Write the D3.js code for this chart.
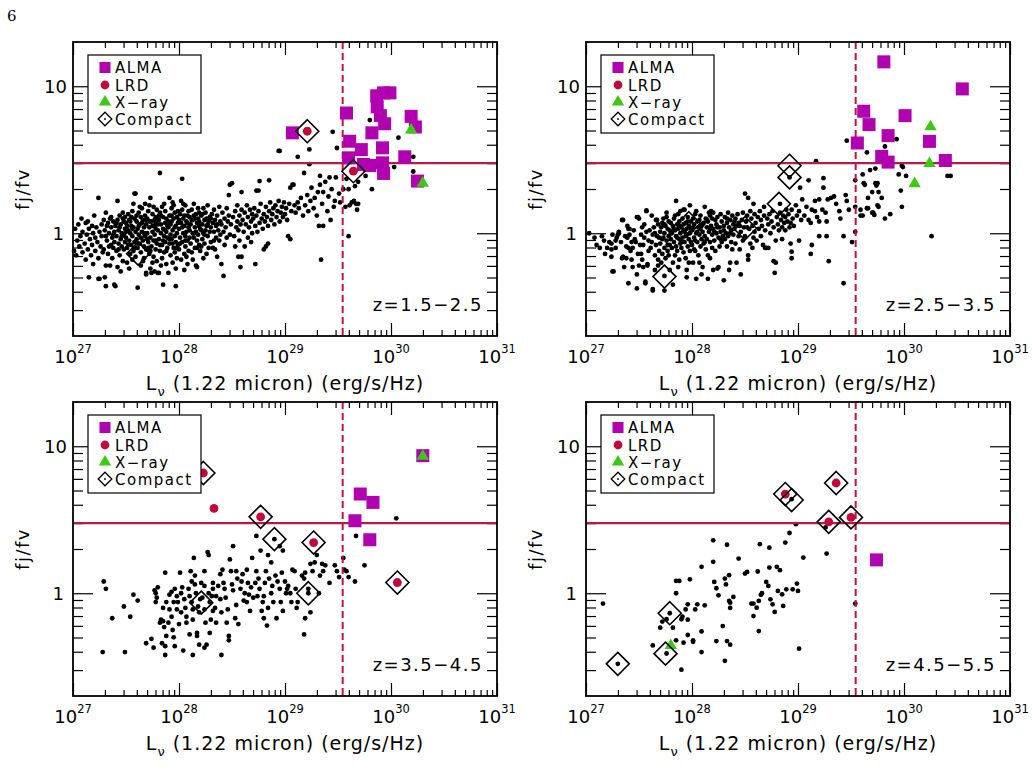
<!DOCTYPE html>
<html>
<head>
<meta charset="utf-8">
<script src="https://cdn.jsdelivr.net/npm/d3@7"></script>
<style>
  body { margin: 0; background: #fff; }
  text { font-family: "DejaVu Sans", sans-serif; fill: #000; }
</style>
</head>
<body>
<svg id="chart" width="1032" height="780"></svg>
<script>
// every point is [log10 L_nu (erg/s/Hz), log10 fj/fv]

// z = 1.5 - 2.5
var dots1 = [
  [27.01,-0.12],[27.02,0.03],[27.03,-0.15],[27.04,-0.05],[27.05,0.06],[27.06,-0.09],[27.07,-0.02],[27.08,0.10],[27.09,-0.13],[27.09,0.01],
  [27.11,-0.07],[27.12,0.07],[27.12,-0.18],[27.13,-0.01],[27.14,0.08],[27.14,-0.11],[27.15,-0.30],[27.15,0.03],[27.16,-0.04],[27.17,-0.15],[27.18,0.05],[27.18,-0.08],[27.19,0.00],[27.19,-0.21],
  [27.20,0.12],[27.21,-0.03],[27.21,-0.12],[27.22,0.04],[27.23,-0.06],[27.24,-0.31],[27.24,-0.17],[27.24,0.24],[27.25,0.01],[27.25,-0.31],[27.26,-0.09],[27.27,0.06],[27.27,-0.02],[27.28,-0.13],[27.29,0.09],[27.29,-0.11],
  [27.30,-0.30],[27.30,0.02],[27.31,0.14],[27.31,-0.22],[27.31,-0.36],[27.32,-0.05],[27.33,0.07],[27.33,-0.14],[27.34,0.00],[27.35,-0.22],[27.35,0.10],[27.36,-0.08],[27.36,0.04],[27.37,-0.03],[27.37,-0.17],[27.38,0.08],[27.38,-0.10],[27.39,-0.35],[27.39,0.01],[27.39,-0.06],
  [27.40,-0.36],[27.40,0.05],[27.41,-0.12],[27.41,-0.02],[27.42,0.22],[27.42,-0.23],[27.42,0.09],[27.43,-0.07],[27.43,0.02],[27.44,-0.15],[27.44,0.12],[27.45,-0.04],[27.45,0.06],[27.46,-0.09],[27.46,0.00],[27.47,0.14],[27.47,-0.19],[27.48,-0.01],[27.48,0.08],[27.48,-0.11],[27.49,0.03],[27.49,-0.06],[27.49,0.11],[27.45,-0.26],
  [27.50,-0.03],[27.50,0.07],[27.51,-0.20],[27.51,-0.10],[27.52,0.02],[27.52,0.13],[27.53,-0.05],[27.53,0.09],[27.54,-0.14],[27.54,0.00],[27.55,0.05],[27.55,-0.08],[27.56,0.15],[27.56,-0.02],[27.57,0.20],[27.57,-0.12],[27.57,0.04],[27.58,0.27],[27.58,-0.06],[27.58,0.10],[27.59,0.27],[27.59,0.01],[27.59,-0.16],[27.55,0.11],[27.53,-0.24],[27.56,-0.18],
  [27.60,-0.04],[27.60,0.08],[27.61,-0.37],[27.61,-0.10],[27.61,0.03],[27.62,0.14],[27.62,-0.01],[27.63,-0.07],[27.63,0.06],[27.64,-0.22],[27.64,0.11],[27.64,-0.13],[27.65,0.01],[27.65,0.17],[27.66,-0.05],[27.66,0.09],[27.67,-0.09],[27.67,0.04],[27.67,-0.17],[27.68,0.20],[27.68,-0.02],[27.68,0.12],[27.69,-0.28],[27.69,-0.27],[27.69,0.06],[27.69,-0.11],[27.63,0.18],[27.66,-0.19],
  [27.70,0.00],[27.70,0.10],[27.71,-0.06],[27.71,0.15],[27.72,-0.14],[27.72,0.04],[27.73,0.24],[27.73,-0.24],[27.73,-0.03],[27.74,-0.27],[27.74,0.08],[27.74,-0.09],[27.75,0.13],[27.75,0.01],[27.76,-0.05],[27.76,0.18],[27.76,-0.16],[27.77,-0.26],[27.77,0.05],[27.77,-0.01],[27.78,0.11],[27.78,-0.11],[27.78,0.03],[27.79,-0.07],[27.79,0.16],[27.79,-0.19],[27.72,0.19],[27.75,-0.20],[27.71,-0.10],[27.78,0.07],
  [27.80,-0.27],[27.80,0.02],[27.81,-0.27],[27.81,0.09],[27.81,-0.04],[27.82,0.41],[27.82,0.14],[27.82,-0.12],[27.83,0.00],[27.83,0.06],[27.84,-0.08],[27.84,0.18],[27.84,-0.17],[27.85,-0.35],[27.85,0.03],[27.85,0.11],[27.86,-0.02],[27.86,-0.13],[27.87,0.07],[27.87,0.15],[27.87,-0.06],[27.88,-0.21],[27.88,0.01],[27.88,0.10],[27.89,-0.10],[27.89,0.05],[27.83,-0.22],[27.86,0.20],[27.89,-0.03],[27.81,0.12],
  [27.90,-0.27],[27.90,0.04],[27.91,0.24],[27.91,-0.07],[27.91,0.12],[27.92,-0.01],[27.92,-0.15],[27.93,0.08],[27.93,0.17],[27.93,-0.04],[27.94,0.21],[27.94,-0.20],[27.94,0.02],[27.95,-0.10],[27.95,0.10],[27.96,-0.02],[27.96,0.14],[27.96,-0.13],[27.97,-0.36],[27.97,0.05],[27.97,-0.06],[27.98,0.00],[27.98,0.11],[27.98,-0.17],[27.99,0.07],[27.99,-0.08],[27.92,0.06],[27.95,0.19],[27.97,-0.24],[27.99,0.15],
  [28.00,0.03],[28.00,-0.11],[28.01,0.13],[28.01,-0.03],[28.02,-0.18],[28.02,0.07],[28.03,0.37],[28.03,-0.06],[28.03,0.16],[28.04,0.00],[28.04,0.10],[28.05,-0.14],[28.05,0.05],[28.06,-0.02],[28.06,0.19],[28.06,-0.09],[28.07,0.08],[28.07,0.01],[28.08,-0.21],[28.08,0.12],[28.08,-0.05],[28.09,0.04],[28.09,0.15],[28.09,-0.12],[28.02,0.22],[28.05,-0.25],[28.07,-0.16],[28.04,0.20],
  [28.10,0.02],[28.10,0.11],[28.11,-0.07],[28.11,0.06],[28.12,0.16],[28.12,-0.13],[28.13,-0.18],[28.13,0.00],[28.13,0.09],[28.14,-0.03],[28.14,0.20],[28.15,0.04],[28.15,-0.10],[28.16,-0.22],[28.16,0.13],[28.16,0.01],[28.17,-0.23],[28.17,0.07],[28.17,-0.05],[28.18,0.10],[28.18,0.17],[28.18,-0.01],[28.19,0.05],[28.19,-0.08],[28.14,0.12],[28.19,0.14],
  [28.20,0.03],[28.20,-0.12],[28.21,-0.09],[28.21,0.12],[28.22,0.06],[28.22,-0.04],[28.23,0.17],[28.23,0.00],[28.24,-0.07],[28.24,0.09],[28.25,0.14],[28.25,0.02],[28.26,-0.14],[28.26,0.05],[28.27,-0.02],[28.27,0.19],[28.28,0.08],[28.28,-0.10],[28.29,0.11],[28.29,0.01],[28.23,-0.17],[28.26,0.10],
  [28.30,0.04],[28.30,-0.06],[28.31,0.13],[28.32,-0.10],[28.32,0.07],[28.33,0.01],[28.33,0.16],[28.34,-0.11],[28.34,0.09],[28.35,-0.03],[28.35,0.05],[28.36,-0.16],[28.36,0.12],[28.37,0.02],[28.38,0.18],[28.38,-0.05],[28.39,0.08],[28.39,-0.01],
  [28.40,-0.21],[28.40,0.06],[28.41,0.14],[28.42,-0.29],[28.42,0.01],[28.43,0.10],[28.43,-0.08],[28.44,0.04],[28.45,0.17],[28.45,-0.03],[28.46,0.08],[28.47,0.26],[28.47,0.12],[28.48,0.33],[28.48,-0.01],[28.49,0.06],[28.50,0.34],
  [28.51,0.11],[28.52,-0.02],[28.53,-0.09],[28.53,0.15],[28.54,0.04],[28.55,0.19],[28.55,0.08],[28.56,-0.16],[28.56,0.02],[28.57,0.12],[28.58,-0.23],[28.58,0.06],[28.59,-0.16],[28.59,0.28],[28.59,0.16],[28.57,-0.05],
  [28.60,0.09],[28.61,0.01],[28.62,-0.09],[28.62,0.14],[28.63,0.06],[28.64,0.19],[28.65,-0.03],[28.65,0.11],[28.66,0.04],[28.67,0.16],[28.68,-0.06],[28.68,0.08],[28.69,0.13],[28.69,0.00],
  [28.70,0.10],[28.71,0.17],[28.72,-0.21],[28.72,0.05],[28.73,0.29],[28.73,0.12],[28.74,0.01],[28.75,0.29],[28.75,0.15],[28.76,0.355],[28.76,0.07],[28.77,0.20],[28.78,0.10],[28.79,0.03],
  [28.80,-0.11],[28.80,0.13],[28.81,0.08],[28.82,-0.09],[28.82,0.18],[28.83,0.11],[28.84,-0.07],[28.84,0.05],[28.85,0.36],[28.85,0.15],[28.86,0.21],[28.87,0.09],[28.88,0.13],[28.89,0.17],
  [28.90,0.06],[28.91,0.19],[28.92,0.11],[28.93,0.15],[28.94,0.56],[28.94,0.22],[28.95,0.08],[28.95,0.56],[28.96,0.14],[28.97,0.18],[28.98,0.11],[28.99,0.21],
  [29.00,0.13],[29.01,0.17],[29.02,0.09],[29.03,-0.02],[29.04,0.20],[29.05,-0.04],[29.05,0.31],[29.06,0.15],[29.07,0.33],[29.08,0.33],[29.09,0.19],
  [29.10,0.14],[29.12,0.52],[29.12,0.21],[29.13,0.17],[29.15,0.24],[29.17,0.12],[29.18,0.41],[29.19,0.19],
  [29.21,0.26],[29.22,0.15],[29.23,0.57],[29.23,0.47],[29.24,0.22],[29.25,0.31],[29.27,0.17],[29.28,0.24],
  [29.30,0.12],[29.31,0.28],[29.32,0.05],[29.33,0.39],[29.33,0.33],[29.34,-0.18],[29.35,0.20],[29.36,0.28],[29.36,0.05],[29.38,0.35],
  [29.40,0.15],[29.41,0.25],[29.42,0.38],[29.43,0.09],[29.44,0.30],[29.45,0.69],[29.46,0.18],[29.47,0.22],[29.48,0.38],[29.49,0.58],
  [29.51,0.27],[29.52,0.21],[29.55,0.30],[29.57,0.18],[29.58,0.37],[29.60,0.30],[29.60,-0.02],[29.61,0.19],[29.63,0.21],[29.65,0.22],[29.66,0.32],[29.67,0.20],[29.68,0.16],[29.69,0.35],[29.69,0.20],
  [29.76,0.39],[29.82,0.30],[29.80,0.77],[30.07,0.65],[30.21,0.52],[30.21,0.42],[30.03,0.45],
  [27.31,-0.02],[27.32,0.05],[27.34,-0.09],[27.36,0.11],[27.38,-0.01],[27.41,0.07],[27.43,-0.11],[27.44,0.04],[27.46,-0.02],[27.47,0.10],
  [27.50,0.01],[27.51,0.05],[27.52,-0.08],[27.54,0.08],[27.56,0.03],[27.58,-0.10],[27.60,0.12],[27.61,-0.07],[27.62,0.05],[27.64,-0.03],
  [27.65,0.07],[27.67,0.00],[27.69,0.09],[27.70,-0.04],[27.72,0.08],[27.73,-0.12],[27.75,0.05],[27.77,0.09],[27.78,-0.05],[27.80,0.06],
  [27.82,-0.08],[27.83,0.12],[27.85,-0.05],[27.87,0.02],[27.88,-0.12],[27.90,0.08],[27.91,-0.04],[27.93,0.12],[27.94,-0.07],[27.96,0.04],
  [27.98,-0.10],[28.00,0.09],[28.01,-0.07],[28.03,0.04],[28.05,0.12],[28.06,-0.05],[28.08,0.07],[28.10,-0.03],[28.12,0.09],[28.14,0.00],
  [28.15,0.10],[28.17,-0.10],[28.19,0.08],[28.21,0.02],[28.22,0.13],[28.24,-0.01],[28.27,0.06],[28.30,0.10],[28.33,-0.05],[28.36,0.06]
];
var alma1 = [[29.07,0.683],[29.58,0.818],[29.865,0.935],[29.93,0.955],[29.99,0.955],[29.87,0.86],[29.90,0.80],[29.94,0.745],[29.82,0.683],[29.61,0.626],[29.72,0.569],
  [29.92,0.581],[30.19,0.795],[30.23,0.723],[30.13,0.520],[29.60,0.513],[29.80,0.461],[29.74,0.468],[29.92,0.479],[29.93,0.407],[30.25,0.355]];
var lrd1 = [[29.21,0.694],[29.645,0.422]];
var xray1 = [[30.19,0.71],[30.30,0.348]];
var compact1 = [[29.21,0.694],[29.645,0.422],[27.614,-0.139]];

// z = 2.5 - 3.5
var dots2 = [
  [27.03,0.00],[27.08,-0.03],[27.10,-0.08],[27.13,-0.10],[27.15,-0.02],[27.17,-0.05],[27.18,-0.14],
  [27.20,-0.10],[27.22,-0.06],[27.24,-0.07],[27.24,-0.11],[27.24,-0.16],[27.25,-0.01],[27.25,-0.26],[27.26,-0.26],[27.28,-0.10],[27.28,-0.05],[27.29,-0.03],
  [27.30,-0.01],[27.31,0.01],[27.31,0.00],[27.33,-0.06],[27.34,0.09],[27.34,-0.17],[27.35,0.09],[27.35,-0.16],[27.36,-0.23],[27.37,-0.02],[27.38,-0.09],[27.38,-0.17],[27.39,-0.03],[27.39,0.05],
  [27.40,-0.34],[27.40,0.03],[27.40,-0.10],[27.41,0.03],[27.41,-0.01],[27.42,-0.12],[27.43,-0.06],[27.43,-0.18],[27.44,-0.23],[27.44,-0.10],[27.45,0.02],[27.46,-0.04],[27.47,-0.06],[27.48,-0.375],[27.48,0.11],[27.48,-0.28],[27.49,-0.14],[27.49,0.11],
  [27.50,0.10],[27.50,-0.22],[27.51,-0.08],[27.52,-0.01],[27.52,-0.14],[27.53,0.04],[27.54,-0.08],[27.54,-0.23],[27.55,-0.03],[27.55,0.06],[27.56,-0.34],[27.56,-0.33],[27.57,0.15],[27.57,0.01],[27.57,0.155],[27.58,-0.22],[27.58,-0.21],[27.59,-0.05],[27.59,-0.12],[27.53,-0.18],
  [27.60,0.02],[27.61,-0.10],[27.62,-0.06],[27.63,-0.38],[27.63,-0.01],[27.63,-0.39],[27.64,0.04],[27.65,-0.25],[27.65,-0.15],[27.66,0.09],[27.66,-0.08],[27.67,0.09],[27.67,-0.02],[27.68,0.06],[27.68,-0.18],[27.69,-0.03],[27.69,-0.12],[27.62,0.12],[27.65,0.00],[27.68,-0.22],
  [27.70,0.01],[27.70,-0.07],[27.71,0.04],[27.72,0.07],[27.72,-0.14],[27.73,-0.03],[27.73,0.10],[27.74,-0.39],[27.74,-0.10],[27.74,0.00],[27.75,0.05],[27.75,-0.17],[27.76,0.11],[27.76,-0.05],[27.77,0.03],[27.77,-0.12],[27.78,0.08],[27.78,-0.02],[27.79,-0.25],[27.79,0.02],[27.79,-0.08],[27.71,-0.20],[27.76,0.14],[27.78,-0.15],
  [27.80,0.07],[27.80,-0.04],[27.81,0.00],[27.81,-0.10],[27.82,-0.35],[27.82,0.05],[27.83,-0.06],[27.83,0.10],[27.84,-0.15],[27.84,0.02],[27.85,0.22],[27.85,-0.02],[27.85,-0.09],[27.86,0.06],[27.86,-0.12],[27.87,-0.23],[27.87,0.03],[27.87,0.13],[27.88,-0.04],[27.88,-0.18],[27.88,0.08],[27.89,0.00],[27.89,-0.07],[27.89,0.15],[27.82,-0.20],[27.84,0.12],
  [27.90,0.04],[27.90,-0.10],[27.91,0.10],[27.91,-0.03],[27.92,0.16],[27.92,-0.13],[27.93,0.16],[27.93,0.01],[27.93,-0.06],[27.94,0.07],[27.94,-0.17],[27.95,-0.25],[27.95,-0.30],[27.95,0.03],[27.95,-0.01],[27.96,0.11],[27.96,-0.09],[27.97,0.05],[27.97,-0.04],[27.98,0.19],[27.98,-0.12],[27.98,0.00],[27.99,0.08],[27.99,-0.06],[27.92,0.06],[27.97,-0.20],
  [28.00,0.02],[28.00,-0.08],[28.01,-0.20],[28.01,0.10],[28.02,-0.03],[28.02,0.06],[28.03,-0.12],[28.03,0.13],[28.04,-0.31],[28.04,0.00],[28.05,0.08],[28.05,-0.06],[28.06,0.04],[28.06,-0.15],[28.07,0.09],[28.07,-0.01],[28.08,0.12],[28.08,-0.09],[28.09,-0.28],[28.09,0.05],[28.09,-0.04],[28.04,0.15],[28.07,-0.20],[28.02,-0.11],
  [28.10,-0.23],[28.10,0.01],[28.11,0.07],[28.11,-0.07],[28.12,0.18],[28.12,-0.02],[28.13,0.10],[28.13,-0.11],[28.14,0.04],[28.14,-0.04],[28.15,-0.31],[28.15,0.08],[28.15,-0.15],[28.16,0.01],[28.17,-0.17],[28.17,0.12],[28.17,-0.06],[28.18,0.05],[28.18,0.15],[28.19,-0.01],[28.19,-0.10],[28.16,0.14],
  [28.20,0.14],[28.20,-0.25],[28.20,0.03],[28.21,-0.05],[28.22,0.09],[28.22,-0.12],[28.23,0.06],[28.23,0.00],[28.24,-0.24],[28.24,0.11],[28.25,-0.23],[28.25,-0.03],[28.26,0.04],[28.26,-0.09],[28.27,0.13],[28.27,0.01],[28.28,-0.06],[28.28,0.08],[28.29,-0.02],[28.30,-0.32],
  [28.30,0.05],[28.31,-0.04],[28.31,0.11],[28.32,0.00],[28.33,-0.09],[28.33,0.07],[28.34,0.14],[28.34,-0.02],[28.35,-0.25],[28.35,0.04],[28.36,-0.20],[28.36,0.09],[28.37,-0.06],[28.37,0.02],[28.38,0.12],[28.38,-0.11],[28.39,0.06],[28.39,-0.01],
  [28.40,0.03],[28.41,0.10],[28.41,-0.07],[28.42,-0.20],[28.42,0.05],[28.43,0.13],[28.44,-0.02],[28.44,0.07],[28.45,-0.11],[28.46,-0.28],[28.46,0.01],[28.47,0.09],[28.48,-0.05],[28.48,0.14],[28.49,0.04],[28.50,0.27],
  [28.50,-0.02],[28.51,0.08],[28.52,0.12],[28.53,-0.15],[28.53,-0.18],[28.53,0.24],[28.54,0.03],[28.55,-0.07],[28.56,0.10],[28.57,0.05],[28.58,0.20],[28.58,-0.03],[28.59,0.13],[28.59,0.01],[28.55,0.15],[28.57,-0.10],
  [28.60,0.07],[28.61,-0.05],[28.62,0.11],[28.63,0.03],[28.64,0.15],[28.65,-0.02],[28.65,0.09],[28.66,0.05],[28.67,-0.08],[28.68,0.18],[28.68,0.12],[28.69,-0.10],[28.69,0.02],[28.70,-0.10],
  [28.71,0.10],[28.72,-0.10],[28.72,0.06],[28.73,0.13],[28.74,0.00],[28.75,0.08],[28.76,0.15],[28.77,-0.19],[28.77,0.04],[28.78,-0.27],[28.79,-0.20],[28.79,-0.05],
  [28.80,0.11],[28.81,0.06],[28.82,0.02],[28.83,0.14],[28.84,0.09],[28.85,0.04],[28.86,0.12],[28.87,0.07],[28.88,0.02],[28.88,0.11],[28.89,0.16],[28.85,-0.04],[28.83,0.20],[28.92,0.38],
  [28.90,0.08],[28.91,0.13],[28.92,0.04],[28.93,0.07],[28.93,-0.07],[28.94,0.16],[28.94,-0.125],[28.94,-0.17],[28.95,0.10],[28.96,0.05],[28.98,0.19],[28.99,0.12],
  [29.01,0.15],[29.01,-0.05],[29.02,0.31],[29.03,0.09],[29.04,0.23],[29.06,0.12],[29.08,0.18],[29.10,0.36],[29.10,0.09],[29.12,0.07],[29.12,-0.14],[29.13,0.16],[29.13,-0.08],[29.17,0.49],[29.16,0.22],[29.16,0.15],[29.18,0.11],
  [29.20,0.23],[29.20,0.08],[29.20,-0.02],[29.23,0.16],[29.24,0.375],[29.24,0.31],[29.26,0.14],[29.27,0.08],[29.27,-0.02],[29.28,0.23],[29.29,-0.19],[29.31,0.24],[29.34,0.25],[29.36,0.20],[29.39,0.15],
  [29.40,0.10],[29.43,-0.02],[29.43,-0.34],[29.45,0.26],[29.46,0.22],[29.46,0.63],[29.48,0.16],[29.51,-0.06],[29.54,0.36],[29.54,0.18],[29.54,0.01],[29.59,0.12],[29.59,0.16],
  [29.61,0.40],[29.61,0.12],[29.62,0.34],[29.63,0.33],[29.65,0.55],[29.65,0.17],[29.66,0.24],[29.66,0.17],[29.68,0.43],[29.70,0.28],[29.70,0.14],[29.71,0.14],[29.72,0.125],[29.73,0.44],[29.73,0.34],[29.74,0.325],
  [29.75,0.34],[29.75,0.19],[29.76,0.28],[29.76,0.18],[29.79,0.24],[29.82,0.59],[29.82,0.10],[29.87,0.13],[29.93,0.64],[29.95,0.40],[29.97,0.29],[29.98,0.46],[29.98,0.18],[29.99,0.45],[30.02,0.39],
  [30.26,-0.02],[30.41,0.39],[30.44,0.39],[27.74,-0.29],
  [27.72,-0.04],[27.74,0.06],[27.77,-0.08],[27.80,0.00],[27.83,0.03],[27.86,-0.03],[27.88,0.05],[27.90,-0.06],[27.92,0.02],[27.94,-0.02],
  [27.96,0.08],[27.99,0.03],[28.01,0.04],[28.03,-0.05],[28.05,0.01],[28.08,0.03],[28.10,0.06],[28.12,-0.06],[28.14,0.09],[28.17,0.03],
  [28.19,0.10],[28.21,0.01],[28.24,0.04],[28.27,-0.04],[28.30,0.02],[28.33,0.10],[28.36,0.00],[28.40,0.08],[28.45,0.05],[28.52,0.04]
];
var alma2 = [[29.81,1.166],[30.55,0.982],[29.62,0.83],[29.67,0.739],[30.01,0.80],[29.85,0.664],[29.56,0.614],[30.24,0.625],[29.79,0.523],[29.85,0.484],[30.39,0.495]];
var lrd2 = [];
var xray2 = [[30.25,0.732],[30.24,0.482],[30.10,0.345]];
var compact2 = [[28.92,0.459],[28.92,0.38],[28.82,0.20],[27.97,0.068],[27.74,-0.295],[28.50,0.034]];

// z = 3.5 - 4.5
var dots3 = [
  [27.29,0.08],[27.31,0.03],[27.28,-0.40],[27.37,-0.17],[27.48,-0.09],[27.49,-0.40],[27.54,-0.16],[27.57,-0.01],[27.61,-0.05],[27.69,-0.34],[27.74,-0.31],[27.76,-0.37],
  [27.77,0.02],[27.78,0.00],[27.79,-0.03],[27.78,-0.06],[27.80,0.04],[27.82,-0.20],[27.83,-0.18],[27.85,-0.19],[27.87,0.14],[27.86,-0.23],[27.84,-0.34],[27.87,-0.36],[27.87,-0.42],[27.88,-0.29],
  [27.90,-0.20],[27.91,-0.01],[27.93,0.01],[27.85,-0.10],[27.88,-0.06],[27.91,-0.11],[27.93,-0.16],[27.94,-0.25],[27.95,-0.30],[27.96,-0.36],
  [27.96,0.03],[27.98,-0.02],[27.99,-0.06],[28.01,0.14],[28.02,-0.13],[28.03,0.04],[28.04,-0.39],[28.05,-0.04],[28.06,-0.10],[28.07,-0.16],[28.07,-0.20],[28.00,-0.21],[27.98,-0.11],[28.02,0.00],[27.95,-0.06],
  [28.09,0.03],[28.10,-0.02],[28.11,0.15],[28.12,-0.06],[28.13,-0.11],[28.13,-0.18],[28.14,0.24],[28.15,0.06],[28.16,0.00],[28.17,-0.27],[28.17,-0.29],[28.18,-0.09],[28.19,-0.13],[28.19,-0.35],[28.12,0.08],[28.15,0.12],[28.20,-0.04],[28.10,-0.28],[28.13,-0.42],
  [28.21,0.07],[28.22,-0.03],[28.24,0.15],[28.24,-0.11],[28.25,-0.20],[28.26,-0.35],[28.27,0.28],[28.28,0.00],[28.29,-0.06],[28.29,-0.27],[28.30,-0.18],[28.31,-0.02],[28.32,0.03],[28.32,-0.12],[28.24,-0.37],[28.28,0.26],[28.24,0.05],[28.32,0.07],
  [28.34,-0.10],[28.35,-0.20],[28.35,-0.02],[28.37,0.05],[28.39,-0.04],[28.40,-0.42],[28.40,-0.13],[28.41,0.16],[28.42,0.07],[28.43,0.03],[28.44,-0.03],[28.45,-0.20],[28.47,-0.32],[28.47,-0.29],[28.48,0.23],[28.49,0.15],[28.50,0.06],[28.51,0.32],[28.51,0.02],[28.39,0.13],[28.46,-0.11],
  [28.53,-0.17],[28.54,-0.08],[28.55,0.10],[28.56,-0.21],[28.58,0.03],[28.59,0.08],[28.61,-0.05],[28.62,0.00],[28.64,-0.06],[28.64,0.16],[28.65,0.07],[28.67,-0.12],[28.68,0.04],[28.69,0.24],[28.70,-0.03],[28.54,0.15],[28.60,0.13],[28.66,-0.01],
  [28.72,0.07],[28.73,0.15],[28.74,-0.02],[28.75,0.10],[28.76,0.03],[28.77,0.29],[28.78,-0.12],[28.79,-0.06],[28.80,-0.02],[28.81,0.07],[28.82,0.15],[28.83,-0.22],[28.84,0.26],[28.84,-0.10],[28.85,0.10],[28.87,0.21],[28.87,0.00],[28.88,0.05],[28.89,-0.06],[28.73,0.39],[28.80,-0.17],
  [28.91,0.12],[28.92,-0.17],[28.93,0.08],[28.95,0.32],[28.95,0.03],[28.96,-0.06],[28.97,0.14],[28.98,0.29],[28.98,-0.12],[29.00,0.08],[29.01,0.00],[29.02,0.03],[29.03,0.05],[29.05,0.00],[29.06,-0.06],[29.07,0.16],
  [29.09,0.15],[29.10,0.03],[29.11,-0.10],[29.12,-0.06],[29.16,0.12],[29.18,0.10],[29.19,0.14],[29.19,-0.17],[29.18,-0.28],[29.22,0.03],[29.24,0.20],[29.24,-0.13],[29.26,0.15],
  [29.28,0.21],[29.30,0.26],[29.32,0.00],[29.33,0.12],[29.35,0.20],[29.36,0.15],[29.38,0.19],[29.42,0.07],[29.47,0.19],[29.49,0.15],[29.51,0.11],[29.55,0.24],[29.56,0.16],[29.58,0.15],[29.60,0.11],
  [29.67,0.39],[29.66,0.08],[29.75,0.19],[30.05,0.51],[28.90,0.368],[29.22,0.0]
];
var alma3 = [[30.30,0.936],[29.71,0.675],[29.83,0.618],[29.66,0.493],[29.80,0.364]];
var lrd3 = [[28.23,0.818],[28.33,0.577],[28.77,0.52],[29.27,0.345],[30.06,0.073]];
var xray3 = [[30.30,0.94]];
var compact3 = [[28.23,0.818],[28.77,0.52],[28.90,0.368],[29.27,0.345],[29.22,0.0],[30.06,0.073],[28.21,-0.064]];

// z = 4.5 - 5.5
var dots4 = [
  [27.16,-0.07],[27.30,-0.48],[27.63,-0.355],[27.70,-0.234],[27.72,-0.193],[27.76,-0.177],[27.82,-0.234],[27.79,-0.136],[27.76,-0.41],[27.85,0.0],
  [27.85,0.084],[27.88,0.084],[27.85,-0.32],[27.90,-0.177],[27.91,-0.16],[27.94,-0.11],[27.96,-0.075],[27.96,-0.18],[27.90,-0.52],[27.92,-0.336],
  [27.96,-0.284],[27.98,0.095],[28.01,-0.32],[28.01,-0.33],[28.03,-0.11],[28.05,-0.075],[28.09,0.18],[28.09,-0.26],[28.09,-0.40],[28.12,-0.082],
  [28.20,0.36],[28.20,0.214],[28.21,0.077],[28.23,0.034],[28.25,-0.014],[28.23,-0.325],[28.29,-0.223],[28.31,-0.46],[28.31,0.10],[28.32,0.06],
  [28.33,0.33],[28.35,0.123],[28.35,-0.052],[28.36,-0.064],[28.36,-0.10],[28.33,-0.325],[28.36,-0.35],[28.39,-0.025],[28.44,0.236],[28.50,0.134],
  [28.52,0.145],[28.56,-0.07],[28.58,-0.07],[28.58,-0.155],[28.61,-0.098],[28.62,0.148],[28.63,-0.257],[28.63,-0.052],[28.65,-0.011],[28.64,0.334],
  [28.66,0.0],[28.70,0.077],[28.72,0.05],[28.73,0.31],[28.73,0.175],[28.74,-0.041],[28.76,-0.075],[28.78,-0.127],[28.80,0.18],[28.81,0.016],
  [28.83,0.157],[28.85,-0.007],[28.86,-0.086],[28.89,0.027],[28.92,0.41],[28.88,0.345],[28.94,0.64],[28.95,0.027],[28.98,0.47],[28.99,0.066],
  [29.00,0.016],[29.01,-0.377],[29.05,0.243],[29.27,0.27],[29.26,0.448],[29.54,-0.07]
];
var alma4 = [[29.74,0.227]];
var lrd4 = [[28.88,0.675],[29.36,0.75],[29.29,0.486],[29.50,0.516]];
var xray4 = [[27.80,-0.348]];
var compact4 = [[28.88,0.675],[28.94,0.634],[29.36,0.75],[29.29,0.486],[29.50,0.516],[27.79,-0.136],[27.75,-0.411],[27.30,-0.48]];

var zLabels = ['z=1.5\u22122.5', 'z=2.5\u22123.5', 'z=3.5\u22124.5', 'z=4.5\u22125.5'];
var legendLabels = ['ALMA', 'LRD', 'X\u2212ray', 'Compact'];
var xTickExps = [27, 28, 29, 30, 31];
var yTickLabels = [1, 10];
var fjCut = 3;        // horizontal line
var lumCut = 3.5e29;  // vertical dashed line

var colAlma = '#b000b0', colLrd = '#c0083c', colXray = '#3cc814', colLine = '#b8184a';

var svg = d3.select('#chart');
svg.append('text').attr('x', 7).attr('y', 21)
  .style('font-family', '"DejaVu Serif", serif').style('font-size', '15px').text('6');

var width = 424, height = 294;
var panels = [
  {left: 73,  top: 42,  dots: dots1, alma: alma1, lrd: lrd1, xray: xray1, compact: compact1, z: zLabels[0]},
  {left: 586, top: 42,  dots: dots2, alma: alma2, lrd: lrd2, xray: xray2, compact: compact2, z: zLabels[1]},
  {left: 73,  top: 402, dots: dots3, alma: alma3, lrd: lrd3, xray: xray3, compact: compact3, z: zLabels[2]},
  {left: 586, top: 402, dots: dots4, alma: alma4, lrd: lrd4, xray: xray4, compact: compact4, z: zLabels[3]}
];

function lx(d) { return Math.pow(10, d[0]); }
function ly(d) { return Math.pow(10, d[1]); }

var triPath = 'M0,-6L6.2,4.6L-6.2,4.6Z';
var diaPath = function(s) { return 'M0,' + (-s) + 'L' + s + ',0L0,' + s + 'L' + (-s) + ',0Z'; };

panels.forEach(function(p) {
  var g = svg.append('g').attr('transform', 'translate(' + p.left + ',' + p.top + ')');

  var xScale = d3.scaleLog().domain([1e27, 1e31]).range([0, width]);
  var yScale = d3.scaleLog().domain([0.2, 20]).range([height, 0]);

  var xMajor = xTickExps.map(function(e) { return Math.pow(10, e); });
  var xMinor = xScale.ticks().filter(function(t) { return xMajor.indexOf(t) < 0; });
  var yAll = yScale.ticks();
  var yMajor = yAll.filter(function(t) { return t === 1 || t === 10; });
  var yMinor = yAll.filter(function(t) { return t !== 1 && t !== 10 && t > 0.2 && t < 20; });

  // ticks on all four sides, pointing inward
  function tickAxis(axis, vals, size, tr) {
    var a = g.append('g').attr('transform', tr)
      .call(axis.tickValues(vals).tickSize(size).tickFormat(''));
    a.select('.domain').remove();
    a.selectAll('line').attr('stroke', '#000').attr('stroke-width', 1.2);
  }
  tickAxis(d3.axisBottom(xScale), xMajor, -13, 'translate(0,' + height + ')');
  tickAxis(d3.axisBottom(xScale), xMinor, -6, 'translate(0,' + height + ')');
  tickAxis(d3.axisTop(xScale), xMajor, -13, 'translate(0,0)');
  tickAxis(d3.axisTop(xScale), xMinor, -6, 'translate(0,0)');
  tickAxis(d3.axisLeft(yScale), yMajor, -20, 'translate(0,0)');
  tickAxis(d3.axisLeft(yScale), yMinor, -10, 'translate(0,0)');
  tickAxis(d3.axisRight(yScale), yMajor, -20, 'translate(' + width + ',0)');
  tickAxis(d3.axisRight(yScale), yMinor, -10, 'translate(' + width + ',0)');

  // x tick labels 10^n
  xTickExps.forEach(function(e) {
    var t = g.append('text').attr('x', xScale(Math.pow(10, e))).attr('y', height + 27)
      .attr('text-anchor', 'middle').style('font-size', '18px');
    t.append('tspan').text('10');
    t.append('tspan').attr('dy', -10).style('font-size', '11.5px').text(e);
  });
  yTickLabels.forEach(function(v) {
    g.append('text').attr('x', v === 1 ? -9 : -6).attr('y', yScale(v) + 6.5)
      .attr('text-anchor', 'end').style('font-size', '18px').text(v);
  });

  // axis titles
  var xt = g.append('text').attr('x', width / 2).attr('y', height + 53.5)
    .attr('text-anchor', 'middle').style('font-size', '19px').style('letter-spacing', '1px');
  xt.append('tspan').text('L');
  xt.append('tspan').attr('dy', 6).style('font-size', '13px').text('\u03bd');
  xt.append('tspan').attr('dy', -6).text(' (1.22 micron) (erg/s/Hz)');

  g.append('text').attr('transform', 'translate(-44.5,' + (height / 2) + ') rotate(-90)')
    .attr('text-anchor', 'middle').style('font-size', '18px').style('letter-spacing', '1.5px')
    .text('fj/fv');

  // black dots: all sources
  g.append('g').selectAll('circle').data(p.dots).enter().append('circle')
    .attr('cx', function(d) { return xScale(lx(d)); })
    .attr('cy', function(d) { return yScale(ly(d)); })
    .attr('r', 2.4).attr('fill', '#000');

  // cuts
  g.append('line').attr('x1', 0).attr('x2', width)
    .attr('y1', yScale(fjCut)).attr('y2', yScale(fjCut))
    .attr('stroke', colLine).attr('stroke-width', 2.2);
  g.append('line').attr('x1', xScale(lumCut)).attr('x2', xScale(lumCut))
    .attr('y1', 0).attr('y2', height)
    .attr('stroke', '#c4103f').attr('stroke-width', 2).attr('stroke-dasharray', '7,4');

  g.append('g').selectAll('rect').data(p.alma).enter().append('rect')
    .attr('x', function(d) { return xScale(lx(d)) - 6.5; })
    .attr('y', function(d) { return yScale(ly(d)) - 6.5; })
    .attr('width', 13).attr('height', 13).attr('fill', colAlma);

  g.append('g').selectAll('path').data(p.xray).enter().append('path')
    .attr('transform', function(d) { return 'translate(' + xScale(lx(d)) + ',' + yScale(ly(d)) + ')'; })
    .attr('d', triPath).attr('fill', colXray);

  g.append('g').selectAll('circle').data(p.lrd).enter().append('circle')
    .attr('cx', function(d) { return xScale(lx(d)); })
    .attr('cy', function(d) { return yScale(ly(d)); })
    .attr('r', 4.4).attr('fill', colLrd);

  g.append('g').selectAll('path').data(p.compact).enter().append('path')
    .attr('transform', function(d) { return 'translate(' + xScale(lx(d)) + ',' + yScale(ly(d)) + ')'; })
    .attr('d', diaPath(11.5)).attr('fill', 'none').attr('stroke', '#000').attr('stroke-width', 1.6);

  // frame
  g.append('rect').attr('width', width).attr('height', height)
    .attr('fill', 'none').attr('stroke', '#000').attr('stroke-width', 1.8);

  // redshift label
  g.append('text').attr('x', width - 14).attr('y', height - 25)
    .attr('text-anchor', 'end').style('font-size', '18px').style('letter-spacing', '1.5px')
    .text(p.z);

  // legend
  var lg = g.append('g').attr('transform', 'translate(15,13)');
  lg.append('rect').attr('width', 113).attr('height', 78)
    .attr('fill', '#fff').attr('stroke', '#000').attr('stroke-width', 1.2);
  var rowY = [12.5, 30, 47, 64];
  lg.append('rect').attr('x', 11.5).attr('y', rowY[0] - 5.5).attr('width', 11).attr('height', 11).attr('fill', colAlma);
  lg.append('circle').attr('cx', 17).attr('cy', rowY[1]).attr('r', 4.4).attr('fill', colLrd);
  lg.append('path').attr('transform', 'translate(17,' + (rowY[2] - 1) + ')').attr('d', triPath).attr('fill', colXray);
  lg.append('path').attr('transform', 'translate(17,' + rowY[3] + ')').attr('d', diaPath(6.8))
    .attr('fill', 'none').attr('stroke', '#000').attr('stroke-width', 1.3);
  lg.append('circle').attr('cx', 17).attr('cy', rowY[3]).attr('r', 0.9).attr('fill', '#000');
  legendLabels.forEach(function(s, i) {
    lg.append('text').attr('x', 27).attr('y', rowY[i] + 5.5)
      .style('font-size', '15px').style('letter-spacing', '1.5px').text(s);
  });
});
</script>
</body>
</html>
